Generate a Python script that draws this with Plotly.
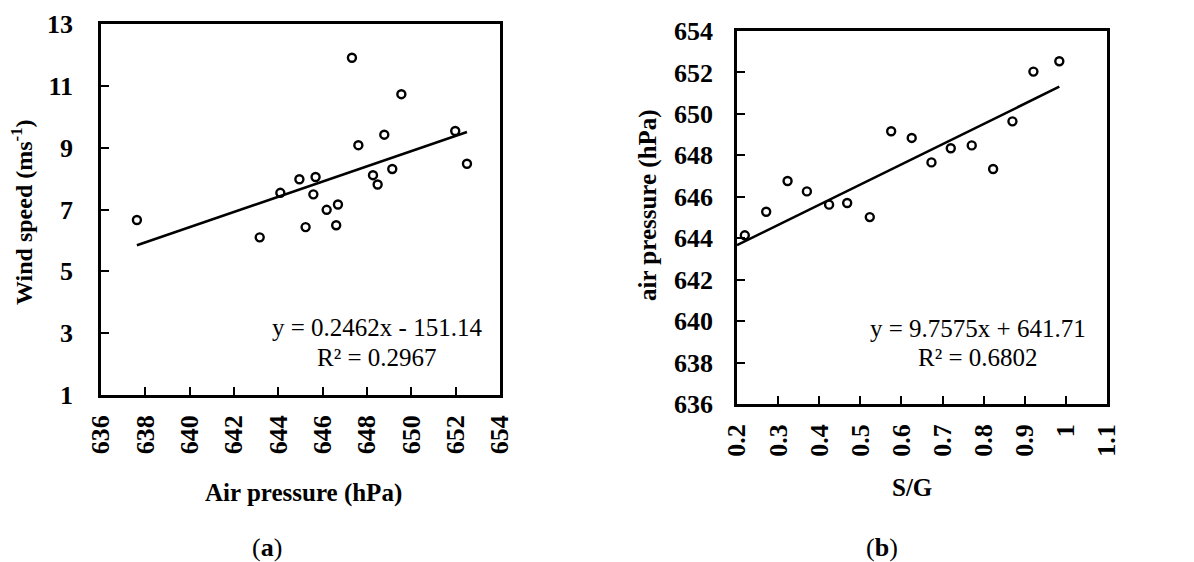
import plotly.graph_objects as go

# Panel (a): wind speed against air pressure
a_pressure = [637.62, 643.16, 644.09, 644.95, 645.23, 645.58, 645.68, 646.18, 646.61, 646.69,
              647.32, 647.61, 648.27, 648.48, 648.78, 649.14, 649.55, 651.98, 652.51]
a_wind = [6.66, 6.10, 7.54, 7.98, 6.43, 7.49, 8.05, 6.99, 6.49, 7.16,
          11.91, 9.08, 8.11, 7.81, 9.42, 8.31, 10.73, 9.54, 8.48]
a_slope, a_intercept, a_r2 = 0.2462, -151.14, 0.2967

# Panel (b): air pressure against S/G
b_sg = [0.219, 0.271, 0.323, 0.370, 0.424, 0.468, 0.523, 0.575, 0.625, 0.673,
        0.720, 0.771, 0.823, 0.870, 0.921, 0.984]
b_pressure = [644.14, 645.28, 646.76, 646.26, 645.62, 645.70, 645.02, 649.16, 648.84, 647.66,
              648.34, 648.48, 647.34, 649.64, 652.04, 652.54]
b_slope, b_intercept, b_r2 = 9.7575, 641.71, 0.6802

a_xticks = list(range(636, 655, 2))
a_yticks = list(range(1, 14, 2))
b_xticks = [0.2, 0.3, 0.4, 0.5, 0.6, 0.7, 0.8, 0.9, 1.0, 1.1]
b_xticklabels = ["0.2", "0.3", "0.4", "0.5", "0.6", "0.7", "0.8", "0.9", "1", "1.1"]
b_yticks = list(range(636, 655, 2))

SERIF = "'Times New Roman', 'Liberation Serif', serif"
W, H = 1194, 562

fig = go.Figure()

marker = dict(symbol="circle-open", size=8, color="black", line=dict(width=2.4, color="black"))

fig.add_trace(go.Scatter(x=a_pressure, y=a_wind, mode="markers", marker=marker,
                         xaxis="x", yaxis="y", showlegend=False))
a_fx = [min(a_pressure), max(a_pressure)]
fig.add_trace(go.Scatter(x=a_fx, y=[a_slope * v + a_intercept for v in a_fx], mode="lines",
                         line=dict(color="black", width=2.5), xaxis="x", yaxis="y", showlegend=False))

fig.add_trace(go.Scatter(x=b_sg, y=b_pressure, mode="markers", marker=marker,
                         xaxis="x2", yaxis="y2", showlegend=False))
b_fx = [b_xticks[0], max(b_sg)]
fig.add_trace(go.Scatter(x=b_fx, y=[b_slope * v + b_intercept for v in b_fx], mode="lines",
                         line=dict(color="black", width=2.5), xaxis="x2", yaxis="y2", showlegend=False))

tickfont = dict(family=SERIF, size=26, color="black", weight="bold")
axis_common = dict(showline=True, linecolor="black", linewidth=2.5, mirror=True,
                   ticks="inside", ticklen=8, tickwidth=2, tickcolor="black",
                   showgrid=False, zeroline=False, tickfont=tickfont, automargin=False)


def px_x(p):
    return p / W


def px_y(p):
    return 1 - p / H


fig.update_layout(
    width=W, height=H, autosize=False,
    margin=dict(l=0, r=0, t=0, b=0),
    paper_bgcolor="white", plot_bgcolor="white",
    font=dict(family=SERIF, color="black"),
    xaxis=dict(domain=[px_x(101), px_x(500)], range=[636, 654], tickvals=a_xticks,
               tickangle=-90, anchor="y", ticklabelstandoff=7, **axis_common),
    yaxis=dict(domain=[px_y(395), px_y(24)], range=[1, 13], tickvals=a_yticks,
               anchor="x", ticklabelstandoff=20, **axis_common),
    xaxis2=dict(domain=[px_x(737), px_x(1107)], range=[0.2, 1.1], tickvals=b_xticks,
                ticktext=b_xticklabels, tickangle=-90, anchor="y2", ticklabelstandoff=7, **axis_common),
    yaxis2=dict(domain=[px_y(404), px_y(31)], range=[636, 654], tickvals=b_yticks,
                anchor="x2", ticklabelstandoff=16, **axis_common),
)

title_font = dict(family=SERIF, size=25, color="black")
text_font = dict(family=SERIF, size=25, color="black")

annotations = [
    dict(text="<b>Air pressure (hPa)</b>", x=px_x(303), y=px_y(493), font=title_font),
    dict(text="<b>Wind speed (ms<sup>-1</sup>)</b>", x=px_x(22), y=px_y(212), textangle=-90,
         font=dict(family=SERIF, size=24, color="black")),
    dict(text="<b>S/G</b>", x=px_x(912), y=px_y(487), font=title_font),
    dict(text="<b>air pressure (hPa)</b>", x=px_x(648), y=px_y(205), textangle=-90, font=title_font),
    dict(text=f"y = {a_slope}x - {abs(a_intercept)}", x=px_x(377), y=px_y(327), font=text_font),
    dict(text=f"R² = {a_r2}", x=px_x(377), y=px_y(357), font=text_font),
    dict(text=f"y = {b_slope}x + {b_intercept}", x=px_x(978), y=px_y(328), font=text_font),
    dict(text=f"R² = {b_r2}", x=px_x(978), y=px_y(357), font=text_font),
    dict(text="(<b>a</b>)", x=px_x(267), y=px_y(547), font=dict(family=SERIF, size=26, color="black")),
    dict(text="(<b>b</b>)", x=px_x(882), y=px_y(547), font=dict(family=SERIF, size=26, color="black")),
]
for a in annotations:
    a.update(xref="paper", yref="paper", showarrow=False, xanchor="center", yanchor="middle")
fig.update_layout(annotations=annotations)

fig.write_html("out.html")
